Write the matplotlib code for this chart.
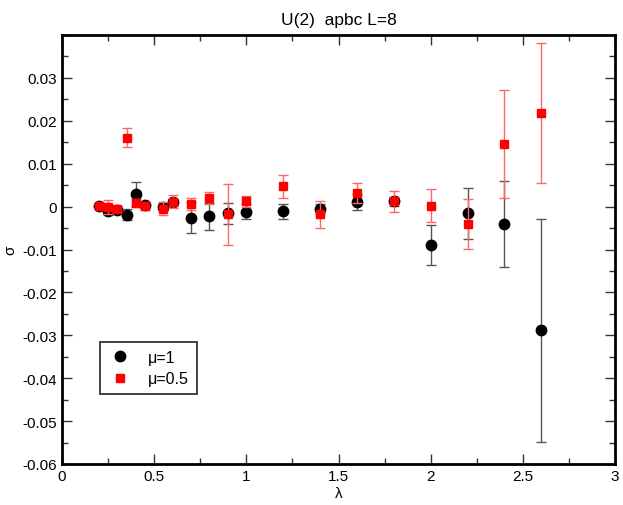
import numpy as np
import matplotlib
matplotlib.use("Agg")
import matplotlib.pyplot as plt
from matplotlib.ticker import MultipleLocator
from matplotlib.lines import Line2D

plt.rcParams['font.family'] = ['Liberation Sans', 'DejaVu Sans']

# mu = 1 (black circles)
lam_mu1 = [0.2, 0.25, 0.3, 0.35, 0.4, 0.45, 0.55, 0.6, 0.7, 0.8, 0.9, 1.0,
           1.2, 1.4, 1.6, 1.8, 2.0, 2.2, 2.4, 2.6]
sig_mu1 = [0.0002, -0.0011, -0.0009, -0.0019, 0.0029, 0.0003, -0.0001, 0.0010,
           -0.0026, -0.0023, -0.0016, -0.0012,
           -0.0011, -0.0005, 0.0011, 0.0012, -0.0090, -0.0016, -0.0041, -0.0288]
err_mu1 = [0.0006, 0.0008, 0.0006, 0.0013, 0.0028, 0.0007, 0.0008, 0.0008,
           0.0036, 0.0032, 0.0025, 0.0017,
           0.0018, 0.0012, 0.0019, 0.0010, 0.0047, 0.0059, 0.0100, 0.0260]

# mu = 0.5 (red squares)
lam_mu05 = [0.2, 0.25, 0.3, 0.35, 0.4, 0.45, 0.55, 0.6, 0.7, 0.8, 0.9, 1.0,
            1.2, 1.4, 1.6, 1.8, 2.0, 2.2, 2.4, 2.6]
sig_mu05 = [0.0002, -0.0001, -0.0006, 0.0161, 0.0008, 0.0001, -0.0005, 0.0011,
            0.0007, 0.0019, -0.0018, 0.0012,
            0.0047, -0.0018, 0.0032, 0.0012, 0.0002, -0.0040, 0.0146, 0.0219]
err_mu05 = [0.0005, 0.0016, 0.0007, 0.0023, 0.0009, 0.0009, 0.0015, 0.0015,
            0.0014, 0.0014, 0.0071, 0.0013,
            0.0026, 0.0031, 0.0024, 0.0024, 0.0039, 0.0058, 0.0125, 0.0163]

fig = plt.figure(figsize=(6.23, 5.06), dpi=100)
ax = fig.add_axes([62 / 623, 1 - 465 / 506, 553 / 623, 429 / 506])

ax.errorbar(lam_mu1, sig_mu1, yerr=err_mu1, fmt='o', color='black', ms=7.5,
            ecolor='#555555', elinewidth=1.0, capsize=3.8, capthick=1.0,
            zorder=3)
ax.errorbar(lam_mu05, sig_mu05, yerr=err_mu05, fmt='s', color='red', ms=6.2,
            ecolor='#ff6666', elinewidth=1.0, capsize=3.8, capthick=1.0,
            zorder=4)

ax.set_xlim(0, 3)
ax.set_ylim(-0.06, 0.04)
ax.xaxis.set_minor_locator(MultipleLocator(0.25))
ax.yaxis.set_minor_locator(MultipleLocator(0.005))
ax.set_yticks([0.03, 0.02, 0.01, 0, -0.01, -0.02, -0.03, -0.04, -0.05, -0.06])
ax.set_yticklabels(['0.03', '0.02', '0.01', '0', '-0.01', '-0.02', '-0.03',
                    '-0.04', '-0.05', '-0.06'])
ax.set_xticks([0, 0.5, 1, 1.5, 2, 2.5, 3])
ax.set_xticklabels(['0', '0.5', '1', '1.5', '2', '2.5', '3'])

ax.tick_params(which='both', direction='in', top=True, right=True,
               labelsize=11, color='#333333')
ax.tick_params(which='major', length=7, width=1)
ax.tick_params(which='minor', length=4, width=1)
for sp in ax.spines.values():
    sp.set_linewidth(2)

ax.set_xlabel('λ', fontsize=11, labelpad=2)
ax.set_ylabel('σ', fontsize=11, labelpad=4)
ax.set_title('U(2)  apbc L=8', fontsize=12.5, pad=8)

# legend shows markers only, no error bars
handles = [Line2D([], [], ls='none', marker='o', color='black', ms=7.5),
           Line2D([], [], ls='none', marker='s', color='red', ms=6.2)]
leg = ax.legend(handles, ['μ=1', 'μ=0.5'], loc='upper left',
                bbox_to_anchor=(38 / 553, 122 / 429),
                frameon=True, fancybox=False, edgecolor='black',
                fontsize=11.5, handletextpad=1.0, borderpad=0.5,
                labelspacing=0.4, handlelength=1.5, borderaxespad=0)
leg.get_frame().set_linewidth(1.3)

fig.savefig('out.png', dpi=100)
